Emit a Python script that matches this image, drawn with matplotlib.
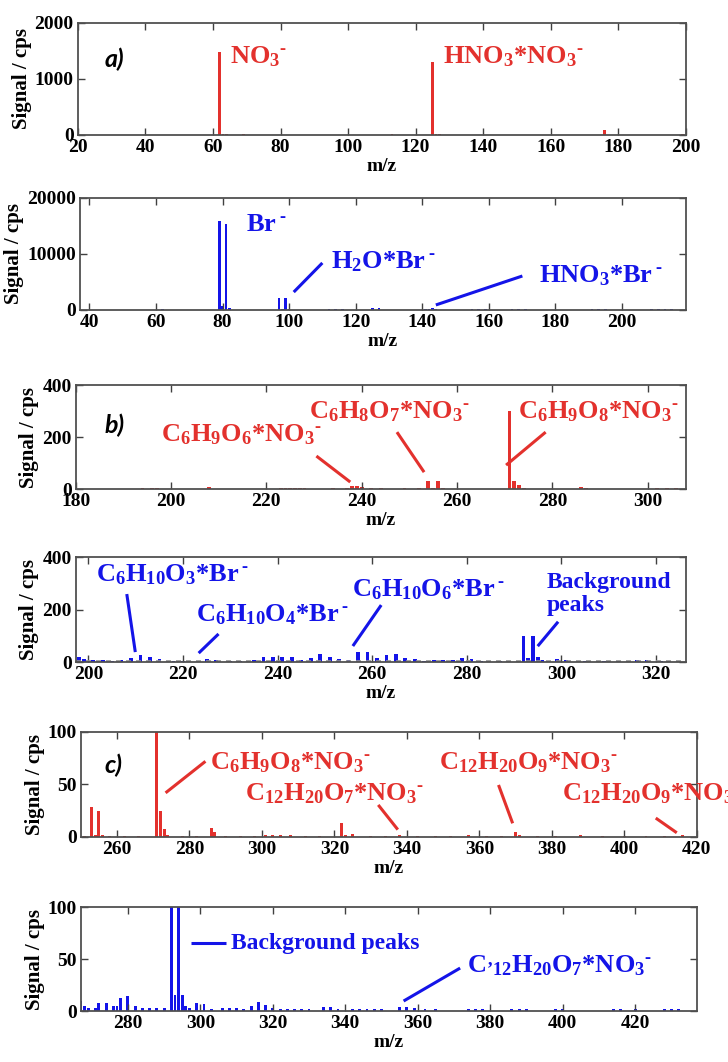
import matplotlib
matplotlib.use("Agg")
import matplotlib.pyplot as plt

RED = '#E3312D'
BLUE = '#1414E8'

# ---- data (m/z, signal in cps) ----
# a) NO3- ionisation
a_no3_mz = [26, 30, 46, 62, 63, 64, 69, 80, 97, 113, 125, 126, 127, 140, 152, 176, 188, 199]
a_no3_sig = [4, 5, 8, 1480, 20, 15, 10, 5, 4, 25, 1300, 20, 18, 4, 6, 90, 4, 10]

# a) Br- ionisation
a_br_mz = [62, 79, 80, 81, 82, 97, 98, 99, 100, 112, 114, 116, 125, 126, 127, 128,
           141, 142, 143, 144, 155, 157, 159, 167, 169, 171, 191, 193, 195, 209, 211, 213, 215]
a_br_sig = [150, 15800, 700, 15300, 300, 2150, 150, 2150, 150, 100, 120, 100, 350, 80, 350, 80,
            200, 250, 350, 150, 120, 150, 100, 150, 200, 120, 100, 120, 100, 100, 150, 150, 100]

# b) NO3- ionisation
b_no3_mz = [194, 196, 197, 208, 223, 224, 225, 226, 227, 228, 234, 237, 238, 239, 240, 242,
            244, 249, 252, 254, 255, 256, 257, 271, 272, 273, 274, 286, 287, 302, 304, 306]
b_no3_sig = [3, 3, 3, 8, 3, 4, 3, 4, 3, 3, 3, 5, 10, 12, 8, 5,
             3, 3, 3, 30, 5, 30, 5, 300, 30, 15, 4, 8, 5, 3, 3, 3]

# b) Br- ionisation
b_br_mz = [198, 199, 201, 203, 205, 207, 209, 211, 213, 215, 218, 220, 225, 227, 230, 232,
           235, 237, 239, 241, 243, 245, 247, 249, 251, 253, 255, 257, 259, 261, 263, 265,
           267, 269, 271, 273, 275, 277, 279, 281, 283, 287, 292, 293, 294, 295, 296, 299,
           301, 305, 309, 312, 316, 318, 321]
b_br_sig = [20, 10, 8, 6, 5, 8, 15, 25, 20, 10, 5, 5, 12, 8, 5, 5,
            8, 20, 20, 20, 18, 8, 15, 30, 20, 10, 8, 40, 40, 15, 25, 30,
            15, 10, 5, 8, 8, 8, 15, 10, 5, 5, 100, 15, 100, 20, 8, 10,
            8, 5, 4, 4, 8, 8, 5]

# c) NO3- ionisation
c_no3_mz = [251, 253, 254, 255, 256, 258, 262, 266, 271, 272, 273, 274, 278, 282, 286, 287,
            290, 294, 298, 301, 303, 305, 308, 312, 316, 322, 323, 325, 330, 334, 338, 343,
            348, 352, 357, 362, 366, 370, 371, 376, 381, 388, 394, 400, 406, 411, 416]
c_no3_sig = [1, 29, 2, 25, 2, 1, 1, 1, 100, 25, 8, 2, 1, 1, 9, 5,
             1, 1, 1, 2, 2, 2, 2, 1, 1, 13, 2, 3, 1, 1, 2, 1,
             1, 1, 2, 1, 1, 5, 2, 1, 1, 2, 1, 1, 1, 1, 2]

# c) Br- ionisation
c_br_mz = [267, 268, 269, 271, 272, 274, 276, 277, 278, 280, 282, 284, 286, 288, 290, 292,
           293, 294, 295, 296, 297, 299, 301, 303, 306, 308, 310, 312, 314, 316, 318, 320,
           322, 324, 326, 328, 330, 334, 336, 338, 342, 344, 346, 348, 350, 355, 357, 359,
           362, 365, 374, 376, 378, 386, 388, 390, 398, 400, 414, 416, 420, 428, 430, 432]
c_br_sig = [10, 5, 3, 3, 8, 8, 5, 5, 13, 14, 5, 3, 3, 3, 3, 100,
            15, 100, 15, 5, 3, 8, 7, 2, 3, 3, 3, 2, 5, 9, 6, 3,
            2, 2, 2, 2, 2, 4, 4, 2, 2, 2, 2, 2, 2, 4, 4, 3,
            2, 2, 2, 2, 2, 2, 2, 2, 2, 2, 2, 2, 2, 2, 2, 2]

plt.rcParams['font.family'] = 'Liberation Serif'
plt.rcParams['font.weight'] = 'bold'
plt.rcParams['mathtext.fontset'] = 'custom'
plt.rcParams['mathtext.rm'] = 'Liberation Serif:bold'
plt.rcParams['mathtext.it'] = 'Liberation Serif:bold'
plt.rcParams['mathtext.bf'] = 'Liberation Serif:bold'
plt.rcParams['mathtext.default'] = 'rm'

fig = plt.figure(figsize=(7.28, 10.62), dpi=100)

NEG = '$^{‐}$'      # short superscript dash as in the original figure
NEG_SP = r'$\,^{‐}$'


def make_axes(rect, mz, sig, color, xlim, ylim, xticks, yticks):
    ax = fig.add_axes(rect)
    ax.bar(mz, sig, width=0.8, color=color, linewidth=0)
    ax.set_xlim(xlim)
    ax.set_ylim(ylim)
    xticks = list(xticks)
    ax.set_xticks(xticks, labels=[str(v) for v in xticks], fontweight='bold', fontsize=14)
    ax.set_yticks(yticks, labels=[str(v) for v in yticks], fontweight='bold', fontsize=14)
    ax.tick_params(direction='in', top=True, right=True, length=5, width=1,
                   pad=3, color='#404040')
    for s in ax.spines.values():
        s.set_color('#505050')
        s.set_linewidth(1.3)
    ax.set_ylabel('Signal / cps', fontsize=15, fontweight='bold', labelpad=2)
    ax.set_xlabel('m/z', fontsize=14, fontweight='bold', labelpad=1)
    return ax


def label(ax, text, pos, color, line=None, size=19):
    ax.text(pos[0], pos[1], text, color=color, fontsize=size, fontweight='bold',
            ha='left', va='center', clip_on=False)
    if line is not None:
        ax.plot([line[0], line[2]], [line[1], line[3]], color=color, lw=2.2,
                solid_capstyle='butt')


def panel_tag(ax, text, pos):
    ax.text(pos[0], pos[1], text, fontsize=18, fontfamily='Lato', fontweight='bold',
            fontstyle='italic', ha='left', va='center')


# a) top
ax1 = make_axes([0.107, 0.8729, 0.835, 0.1055], a_no3_mz, a_no3_sig, RED,
                (20, 200), (0, 2000), range(20, 201, 20), [0, 1000, 2000])
panel_tag(ax1, 'a)', (28, 1350))
label(ax1, r'NO$_3$' + NEG, (65, 1400), RED)
label(ax1, r'HNO$_3$*NO$_3$' + NEG, (128, 1400), RED)

# a) bottom
ax2 = make_axes([0.110, 0.7081, 0.832, 0.1055], a_br_mz, a_br_sig, BLUE,
                (37.2, 219.2), (0, 20000), range(40, 201, 20), [0, 10000, 20000])
label(ax2, 'Br' + NEG_SP, (87, 15200), BLUE)
label(ax2, r'H$_2$O*Br' + NEG_SP, (112.5, 8600), BLUE, line=(110, 8400, 101.4, 3200))
label(ax2, r'HNO$_3$*Br' + NEG_SP, (175.2, 6100), BLUE, line=(170.1, 6070, 144.1, 900))

# b) top
ax3 = make_axes([0.104, 0.5395, 0.838, 0.0979], b_no3_mz, b_no3_sig, RED,
                (180, 308), (0, 400), range(180, 301, 20), [0, 200, 400])
panel_tag(ax3, 'b)', (186, 246))
label(ax3, r'C$_6$H$_9$O$_6$*NO$_3$' + NEG, (197.8, 210), RED, line=(230.5, 127, 237.6, 27))
label(ax3, r'C$_6$H$_8$O$_7$*NO$_3$' + NEG, (229, 298), RED, line=(247.4, 219, 253.1, 65))
label(ax3, r'C$_6$H$_9$O$_8$*NO$_3$' + NEG, (272.7, 298), RED, line=(278.6, 219, 270.3, 92))

# b) bottom
ax4 = make_axes([0.104, 0.3766, 0.838, 0.0989], b_br_mz, b_br_sig, BLUE,
                (197.3, 326.3), (0, 400), range(200, 321, 20), [0, 200, 400])
ax4.axhline(4, color='#909090', lw=1.2, ls=(0, (3, 3)))
label(ax4, r'C$_6$H$_{10}$O$_3$*Br' + NEG_SP, (201.5, 333), BLUE, line=(208.1, 259, 209.9, 38))
label(ax4, r'C$_6$H$_{10}$O$_4$*Br' + NEG_SP, (222.7, 181), BLUE, line=(227.5, 107, 223.3, 34))
label(ax4, r'C$_6$H$_{10}$O$_6$*Br' + NEG_SP, (255.7, 276), BLUE, line=(261.9, 217, 255.9, 61))
ax4.text(296.8, 259, 'Background\npeaks', color=BLUE, fontsize=17, fontweight='bold',
         ha='left', va='center', linespacing=1.1)
ax4.plot([299.1, 295.2], [149, 65], color=BLUE, lw=2.2)

# c) top
ax5 = make_axes([0.111, 0.2119, 0.846, 0.0989], c_no3_mz, c_no3_sig, RED,
                (250, 420), (0, 100), range(260, 421, 20), [0, 50, 100])
panel_tag(ax5, 'c)', (256.6, 68.6))
label(ax5, r'C$_6$H$_9$O$_8$*NO$_3$' + NEG, (285.6, 71), RED, line=(284.4, 72, 273.4, 42))
label(ax5, r'C$_{12}$H$_{20}$O$_7$*NO$_3$' + NEG, (295.3, 41), RED, line=(332.1, 30.5, 337.5, 7))
label(ax5, r'C$_{12}$H$_{20}$O$_9$*NO$_3$' + NEG, (348.9, 71), RED, line=(365.3, 49.5, 369.2, 13))
label(ax5, r'C$_{12}$H$_{20}$O$_9$*NO$_3$' + NEG, (382.9, 41), RED, line=(408.7, 18, 414.5, 4))

# c) bottom
ax6 = make_axes([0.111, 0.048, 0.846, 0.0979], c_br_mz, c_br_sig, BLUE,
                (267, 437), (0, 100), range(280, 421, 20), [0, 50, 100])
label(ax6, 'Background peaks', (308.4, 65.4), BLUE, line=(297.5, 65.4, 307.2, 65.4), size=17)
label(ax6, r'C$_{’12}$H$_{20}$O$_7$*NO$_3$' + NEG, (373.7, 44), BLUE,
      line=(371.7, 41.3, 356.1, 9.6))

fig.savefig('out.png', dpi=100)
